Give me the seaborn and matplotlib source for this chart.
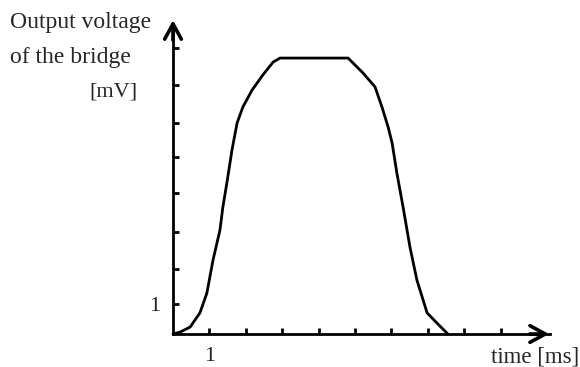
import pandas as pd
import matplotlib
matplotlib.use("Agg")
import matplotlib.pyplot as plt
import seaborn as sns

# --- DATA ---
time_ms = [0.0, 0.19, 0.47, 0.74, 0.93, 1.10, 1.29, 1.37, 1.48, 1.62, 1.76, 1.92,
           2.17, 2.47, 2.75, 2.94, 4.81, 4.92, 5.22, 5.55, 5.74, 5.91, 6.02, 6.15,
           6.32, 6.51, 6.70, 6.98, 7.25, 7.55]
voltage_mv = [0.0, 0.05, 0.19, 0.58, 1.12, 2.03, 2.85, 3.48, 4.14, 5.04, 5.78, 6.22,
              6.68, 7.10, 7.45, 7.56, 7.56, 7.45, 7.15, 6.77, 6.22, 5.67, 5.23, 4.41,
              3.48, 2.38, 1.48, 0.58, 0.30, 0.0]
x_ticks = [1, 2, 3, 4, 5, 6, 7, 8, 9]
x_tick_labels = ["1", "", "", "", "", "", "", "", ""]
y_ticks = [0.82, 1.78, 2.79, 3.86, 4.85, 5.78, 6.82, 7.84]
y_tick_labels = ["1", "", "", "", "", "", "", ""]

df = pd.DataFrame({"time": time_ms, "voltage": voltage_mv})

sns.set_style("white")
plt.rcParams["font.family"] = ["Liberation Serif", "DejaVu Serif"]

fig = plt.figure(figsize=(5.8, 3.67), dpi=100)
ax = fig.add_axes([0, 0, 1, 1])

sns.lineplot(data=df, x="time", y="voltage", color="black", linewidth=2.0, ax=ax)

# axis limits chosen so that the origin sits where the reference has it
ax.set_xlim(-4.753, 11.181)
ax.set_ylim(-0.904, 9.151)

for side in ["top", "right"]:
    ax.spines[side].set_visible(False)
ax.spines["left"].set_position(("data", 0))
ax.spines["bottom"].set_position(("data", 0))
ax.spines["left"].set_bounds(0, 8.5)
ax.spines["bottom"].set_bounds(0, 10.35)
for side in ["left", "bottom"]:
    ax.spines[side].set_linewidth(2.0)
    ax.spines[side].set_color("black")

# arrow heads
head = "->,head_length=0.55,head_width=0.3"
ax.annotate("", xy=(10.33, 0), xytext=(9.8, 0),
            arrowprops=dict(arrowstyle=head, color="black", lw=2.6, mutation_scale=20,
                            shrinkA=0, shrinkB=0))
ax.annotate("", xy=(0, 8.6), xytext=(0, 8.05),
            arrowprops=dict(arrowstyle=head, color="black", lw=2.6, mutation_scale=20,
                            shrinkA=0, shrinkB=0))

ax.set_xticks(x_ticks)
ax.set_xticklabels(x_tick_labels)
ax.set_yticks(y_ticks)
ax.set_yticklabels(y_tick_labels)
ax.tick_params(axis="both", direction="in", length=4, width=2.0, color="black",
               labelsize=16, pad=9, bottom=True, left=True)
ax.set_xlabel("")
ax.set_ylabel("")

ax.text(-4.48, 8.38, "Output voltage", fontsize=17, ha="left", va="baseline")
ax.text(-4.48, 7.42, "of the bridge", fontsize=17, ha="left", va="baseline")
ax.text(-0.98, 6.63, "[mV]", fontsize=16, ha="right", va="center")
ax.text(11.15, -0.63, "time [ms]", fontsize=16.5, ha="right", va="center")

fig.savefig("out.png", dpi=100)
